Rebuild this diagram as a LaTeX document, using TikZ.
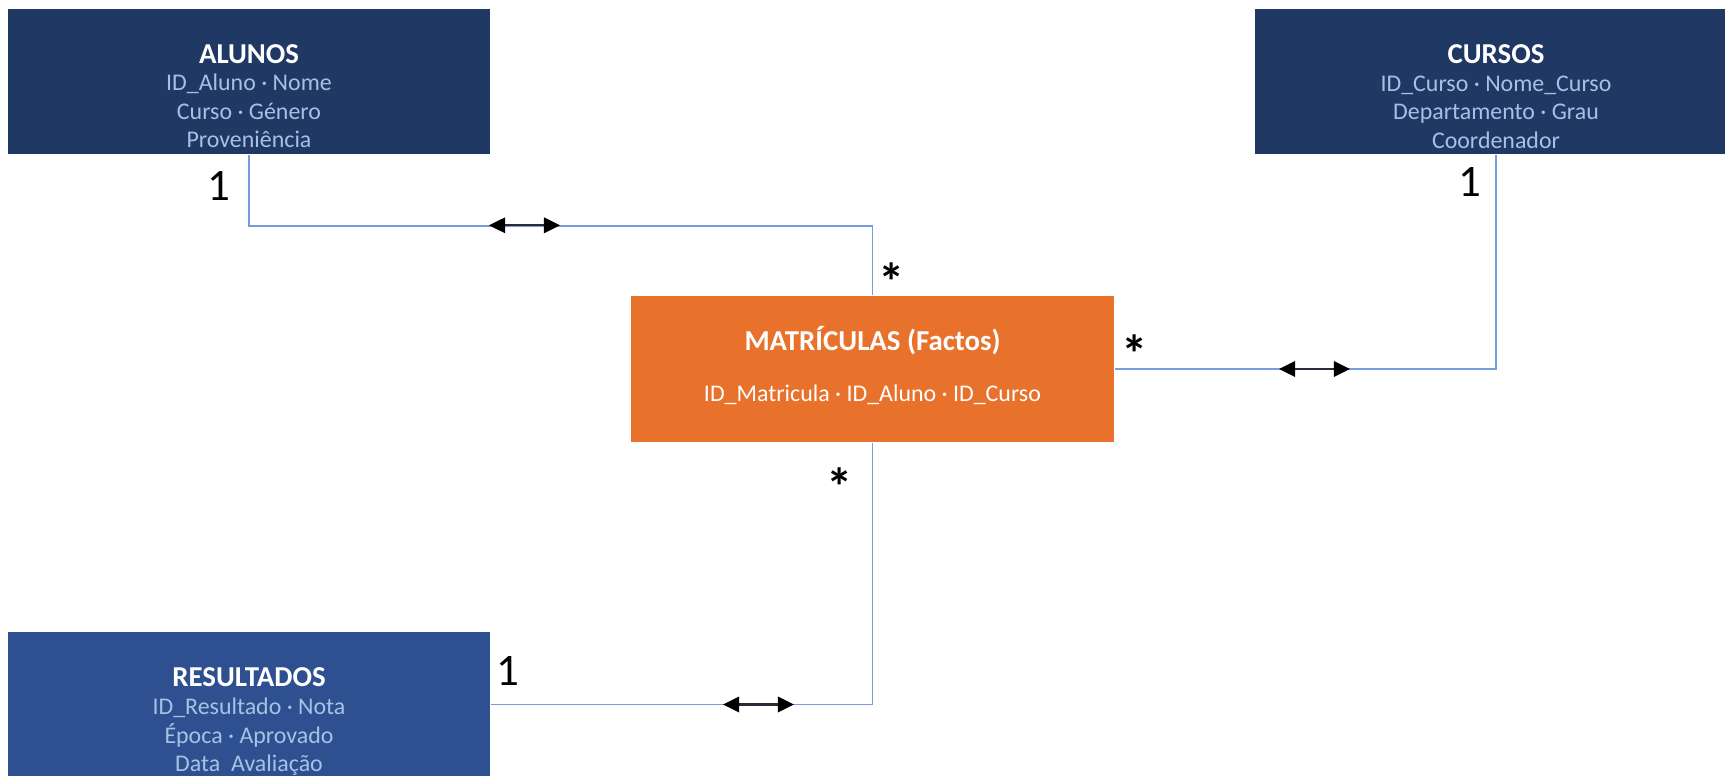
\documentclass[tikz,border=0pt]{standalone}
\usepackage{fontspec}
\setmainfont{Carlito}
\usetikzlibrary{arrows.meta}

\definecolor{navy}{HTML}{203864}
\definecolor{resblue}{HTML}{2F5090}
\definecolor{factorange}{HTML}{E8722C}
\definecolor{attrblue}{HTML}{A4C3E4}
\definecolor{linkblue}{HTML}{7A9CDA}
\definecolor{tipdark}{HTML}{262C3A}

\tikzset{
    entity/.style={fill=navy, minimum width=4.82cm, minimum height=1.45cm, inner sep=0pt},
    fact/.style={entity, fill=factorange, minimum width=4.83cm, minimum height=1.46cm},
    title/.style={text=white, inner sep=0pt, font=\fontsize{8.2}{8.06}\selectfont\bfseries},
    attrs/.style={text=attrblue, inner sep=0pt, align=center, font=\fontsize{6.8}{8.06}\selectfont},
    link/.style={linkblue, line width=0.5pt},
    relarrow/.style={tipdark, line width=0.6pt,
        {Triangle[length=4.6pt,width=4.4pt,color=black]}-{Triangle[length=4.6pt,width=4.4pt,color=black]}},
    card/.style={inner sep=0pt, font=\fontsize{12.8}{13}\selectfont},
    many/.style={inner sep=0pt, font=\fontsize{15}{15}\selectfont\bfseries}
}

\begin{document}
\begin{tikzpicture}[x=0.01cm, y=-0.01cm]

    % Page frame, 1725 x 775
    \useasboundingbox (0,0) rectangle (1725,775);
    \clip (0,0) rectangle (1725,775);

    % Draw the tables
    \node[entity] (alunos) at (249,81.4) {};
    \node[entity] (cursos) at (1496,81.4) {};
    \node[fact] (matr) at (872.5,369) {};
    \node[entity, fill=resblue] (result) at (249,704.5) {};

    % Table names and fields
    \node[title] (alunos-t) at (249,54) {ALUNOS};
    \node[attrs] (alunos-a) at (249,111) {ID\_Aluno · Nome\\Curso · Género\\Proveniência};
    \node[title] (cursos-t) at (1496,54) {CURSOS};
    \node[attrs] (cursos-a) at (1496,112) {ID\_Curso · Nome\_Curso\\Departamento · Grau\\Coordenador};
    \node[title] (matr-t) at (872.5,341) {MATRÍCULAS (Factos)};
    \node[attrs, text=white] (matr-a) at (872.5,395) {ID\_Matricula · ID\_Aluno · ID\_Curso};
    \node[title] (result-t) at (249,677) {RESULTADOS};
    \node[attrs] (result-a) at (249,737) {ID\_Resultado · Nota\\Época · Aprovado\\Data\ \ Avaliação};

    % Relations
    \draw[link] (alunos.south) -- ++(0,71.5) -| (matr.north);
    \draw[link] (cursos.south) |- (matr.east);
    \draw[link] (matr.south) |- (result.east);

    % Double arrows on the relations
    \coordinate (arr1) at (489,225.3);
    \coordinate (arr2) at (1279,369);
    \coordinate (arr3) at (723,704.5);
    \draw[relarrow] (arr1) -- ++(71,0);
    \draw[relarrow] (arr2) -- ++(71,0);
    \draw[relarrow] (arr3) -- ++(71,0);

    % Label the cardinalities
    \node[card] (c1) at (219,186) {1};
    \node[card] (c2) at (1470,182) {1};
    \node[card] (c3) at (508,671) {1};
    \node[many] (c4) at (891.6,282) {*};
    \node[many] (c5) at (1134.6,354) {*};
    \node[many] (c6) at (840,487) {*};

\end{tikzpicture}
\end{document}
